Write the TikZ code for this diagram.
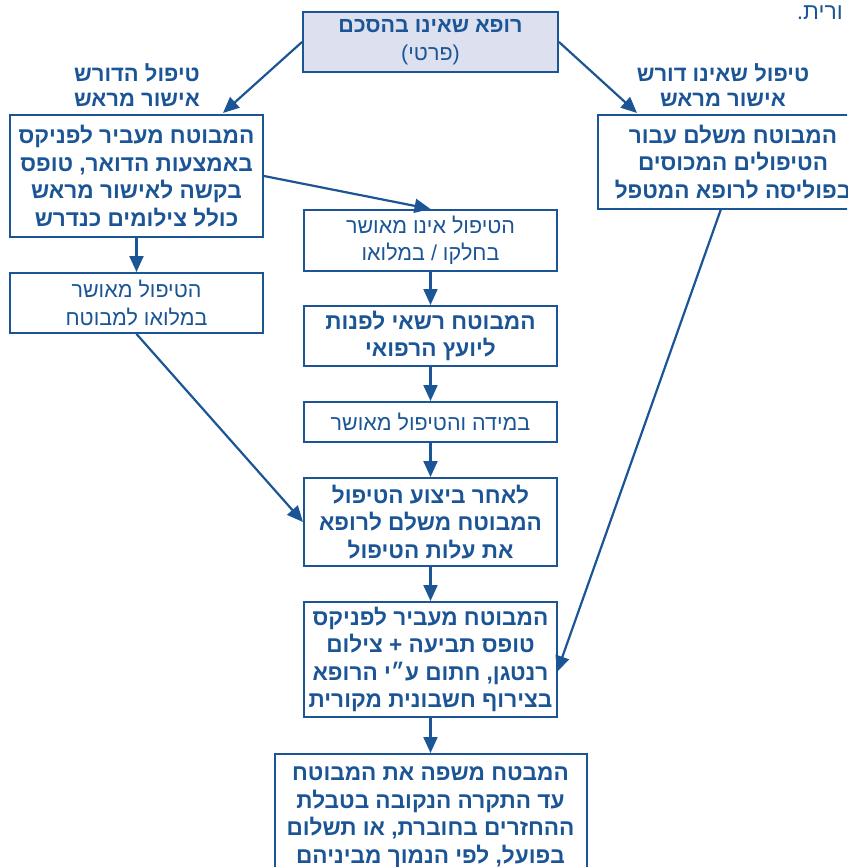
\documentclass[tikz,border=0pt]{standalone}
\usepackage{fontspec}
\setmainfont{Liberation Sans}[Script=Hebrew]
\TeXXeTstate=1
\usetikzlibrary{arrows.meta,calc}
\definecolor{fblue}{HTML}{1B5596}
\definecolor{ffill}{HTML}{DCE0EF}
\newcommand\heb[1]{\beginR #1\endR}
\begin{document}
\begin{tikzpicture}[x=1pt,y=-1pt,
  boxbase/.style={draw=fblue, line width=2pt, text=fblue, align=center, inner sep=0pt},
  bbox/.style={boxbase, font=\fontsize{22.6}{27.5}\selectfont\bfseries},
  nbox/.style={boxbase, font=\fontsize{21.5}{27.5}\selectfont},
  lbl/.style={text=fblue, align=center, inner sep=0pt, font=\fontsize{22}{25.5}\selectfont\bfseries},
  arr/.style={draw=fblue, line width=2.2pt, -{Triangle[length=16pt,width=14pt]}}]
\useasboundingbox (0,0) rectangle (847,867);
\clip (0,0) rectangle (847,867);
% top fragment
\node[anchor=east, text=fblue, inner sep=0pt, font=\fontsize{23}{24}\selectfont] (frag) at (843,13) {\heb{ורית.}};
% top box
\node[boxbase, fill=ffill, minimum width=255pt, minimum height=60pt, font=\fontsize{21.5}{27.5}\selectfont] (top) at (430.5,42)
  {{\bfseries\heb{רופא שאינו בהסכם}}\\\heb{(פרטי)}};
% labels
\node[lbl] (lblL) at (137,85) {\heb{טיפול הדורש}\\\heb{אישור מראש}};
\node[lbl] (lblR) at (723,85) {\heb{טיפול שאינו דורש}\\\heb{אישור מראש}};
% left column
\node[bbox, minimum width=253pt, minimum height=122pt] (L1) at (136.5,176)
  {\heb{המבוטח מעביר לפניקס}\\\heb{באמצעות הדואר, טופס}\\\heb{בקשה לאישור מראש}\\\heb{כולל צילומים כנדרש}};
\node[nbox, minimum width=253pt, minimum height=60pt] (L2) at (136.5,303)
  {\heb{הטיפול מאושר}\\\heb{במלואו למבוטח}};
% right box
\node[bbox, minimum width=270pt, minimum height=94pt] (R) at (733,162)
  {\heb{המבוטח משלם עבור}\\\heb{הטיפולים המכוסים}\\\heb{בפוליסה לרופא המטפל}};
% middle column
\node[nbox, minimum width=253pt, minimum height=61pt] (A) at (430.5,240.5)
  {\heb{הטיפול אינו מאושר}\\\heb{בחלקו / במלואו}};
\node[bbox, minimum width=253pt, minimum height=60pt] (B) at (430.5,336)
  {\heb{המבוטח רשאי לפנות}\\\heb{ליועץ הרפואי}};
\node[nbox, minimum width=253pt, minimum height=40pt] (C) at (430.5,422)
  {\heb{במידה והטיפול מאושר}};
\node[bbox, minimum width=253pt, minimum height=88pt] (D) at (430.5,522)
  {\heb{לאחר ביצוע הטיפול}\\\heb{המבוטח משלם לרופא}\\\heb{את עלות הטיפול}};
\node[bbox, minimum width=253pt, minimum height=115pt] (E) at (430.5,659.5)
  {\heb{המבוטח מעביר לפניקס}\\\heb{טופס תביעה + צילום}\\\heb{רנטגן, חתום ע״י הרופא}\\\heb{בצירוף חשבונית מקורית}};
\node[bbox, minimum width=312pt, minimum height=126pt, anchor=north] (F) at (430.5,753)
  {\heb{המבטח משפה את המבוטח}\\\heb{עד התקרה הנקובה בטבלת}\\\heb{ההחזרים בחוברת, או תשלום}\\\heb{בפועל, לפי הנמוך מביניהם}};
% connector ends
\coordinate (tipL) at (223,113);
\coordinate (tipR) at (637,113);
\coordinate (fromR) at (721,209);
\coordinate (tipE) at (557,672);
% connectors
\draw[arr] (top.west) -- (tipL);
\draw[arr] (top.east) -- (tipR);
\draw[arr] (L1.east) -- (A.north);
\draw[arr] (L1.south) -- (L2.north);
\draw[arr] (L2.south) -- (D.west);
\draw[arr] (A.south) -- (B.north);
\draw[arr] (B.south) -- (C.north);
\draw[arr] (C.south) -- (D.north);
\draw[arr] (D.south) -- (E.north);
\draw[arr] (E.south) -- (F.north);
\draw[arr] (fromR) -- (tipE);
\end{tikzpicture}
\end{document}
